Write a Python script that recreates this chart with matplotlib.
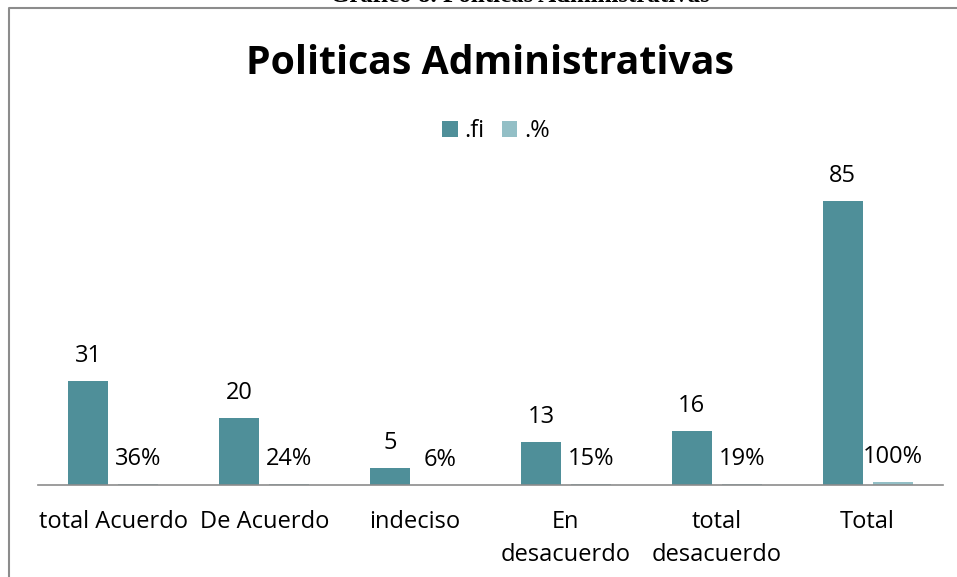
import matplotlib
matplotlib.use("Agg")
import matplotlib.pyplot as plt
from matplotlib.lines import Line2D
import numpy as np

categories = ["total Acuerdo", "De Acuerdo", "indeciso", "En\ndesacuerdo", "total\ndesacuerdo", "Total"]
fi_values = [31, 20, 5, 13, 16, 85]
pct_values = [0.36, 0.24, 0.06, 0.15, 0.19, 1.00]
fi_labels = ["31", "20", "5", "13", "16", "85"]
pct_labels = ["36%", "24%", "6%", "15%", "19%", "100%"]
series_names = [".fi", ".%"]

W, H = 957, 577
fig = plt.figure(figsize=(W / 100, H / 100), dpi=100)
plt.rcParams['font.family'] = ['Open Sans', 'DejaVu Sans']

ax = fig.add_axes([38 / W, (H - 485) / H, (943 - 38) / W, (485 - 184) / H])
x = np.arange(len(categories))
bw = 40 / 150.8
off = 25 / 150.8
c_fi = "#4F8F99"
c_pct = "#93BFC6"
b1 = ax.bar(x - off, fi_values, bw, color=c_fi, label=series_names[0])
b2 = ax.bar(x + off, pct_values, bw, color=c_pct, label=series_names[1])
for rect, lab in zip(b1, fi_labels):
    ax.annotate(lab, (rect.get_x() + rect.get_width() / 2, rect.get_height()),
                xytext=(0, 19), textcoords="offset pixels", ha="center", va="baseline",
                fontsize=17, color="#000000")
for rect, lab in zip(b2, pct_labels):
    ax.annotate(lab, (rect.get_x() + rect.get_width() / 2, rect.get_height()),
                xytext=(0, 19), textcoords="offset pixels", ha="center", va="baseline",
                fontsize=17, color="#000000")

ax.set_xlim(-0.5, len(categories) - 0.5)
ax.set_ylim(0, 90)
for s in ["top", "right", "left"]:
    ax.spines[s].set_visible(False)
ax.spines["bottom"].set_color("#8C8C8C")
ax.spines["bottom"].set_linewidth(1.2)
ax.set_yticks([])
ax.set_xticks(x)
ax.set_xticklabels(categories, fontsize=17, linespacing=1.5)
ax.tick_params(axis="x", length=0, pad=18)

fig.text(490 / W, 1 - 63 / H, "Politicas Administrativas", ha="center", va="center",
         fontsize=28.3, fontweight="bold")
leg = fig.legend(loc="center", bbox_to_anchor=(496 / W, 1 - 131 / H), ncol=2, frameon=False,
                 fontsize=17, handlelength=0.64, handleheight=0.64, handletextpad=0.3,
                 columnspacing=0.72)

fig.text(520 / W, 1 - 2 / H, "Gráfico 8. Politicas Administrativas", ha="center",
         va="baseline", fontsize=18, fontweight="bold", family="Liberation Serif")

fig.add_artist(Line2D([9 / W, 9 / W, 1.0], [0, 1 - 8 / H, 1 - 8 / H],
                      transform=fig.transFigure, color="#8C8C8C", lw=1.5))

fig.savefig("out.png", dpi=100)
